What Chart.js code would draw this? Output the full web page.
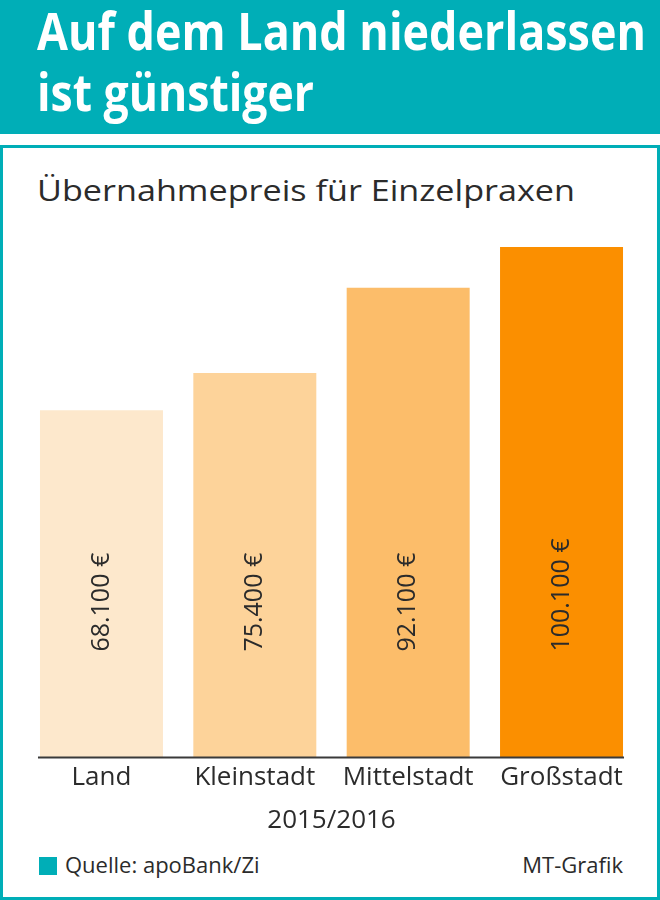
<!DOCTYPE html>
<html lang="de">
<head>
<meta charset="utf-8">
<script src="https://cdn.jsdelivr.net/npm/chart.js@4"></script>
<style>
  html, body { margin: 0; padding: 0; background: #fff; }
  body { position: relative; width: 660px; height: 900px; overflow: hidden; font-family: "Open Sans", sans-serif; color: #2b2b2b; }
  .header { position: absolute; left: 0; top: 0; width: 660px; height: 134px; background: #00aeb7; }
  .fit { position: absolute; left: 37px; white-space: nowrap; line-height: 1; transform-origin: 0 0; }
  .title { color: #fff; font-weight: 700; font-size: 52px; }
  .frame { position: absolute; left: 0; top: 145px; width: 660px; height: 755px; box-sizing: border-box; border: 3px solid #00aeb7; }
  .subtitle { font-size: 29px; top: 175px; }
  .foot { position: absolute; font-size: 22px; line-height: 1; top: 853px; white-space: nowrap; }
  .swatch { position: absolute; left: 39px; top: 857px; width: 18px; height: 18px; background: #00aeb7; }
  canvas { position: absolute; left: 0; top: 150px; }
</style>
</head>
<body>
<div class="header"></div>
<div class="fit title" id="t1" data-w="609" style="top:4px">Auf dem Land niederlassen</div>
<div class="fit title" id="t2" data-w="277" style="top:65px">ist günstiger</div>
<div class="frame"></div>
<div class="fit subtitle" id="sub" data-w="538">Übernahmepreis für Einzelpraxen</div>
<canvas id="chart" width="660" height="686"></canvas>
<div class="swatch"></div>
<div class="foot" style="left:65px">Quelle: apoBank/Zi</div>
<div class="foot" style="right:37px">MT-Grafik</div>

<script>
// Übernahmepreis für Einzelpraxen, 2015/2016
const categories = ['Land', 'Kleinstadt', 'Mittelstadt', 'Großstadt'];
const prices = [68100, 75400, 92100, 100100];
const barColors = ['#fde8cc', '#fdd39a', '#fcbd6a', '#fb8f00'];
const period = '2015/2016';

const TEXT = '#2b2b2b';
const FONT = '"Open Sans", sans-serif';

// squeeze the headline texts to the width they have in the print layout
function fitTexts() {
  document.querySelectorAll('.fit').forEach(el => {
    el.style.transform = 'none';
    const w = el.getBoundingClientRect().width;
    el.style.transform = 'scaleX(' + (parseFloat(el.dataset.w) / w) + ')';
  });
}

function euro(v) {
  return String(v).replace(/\B(?=(\d{3})+(?!\d))/g, '.') + ' €';
}

// rotated price inside each bar + the base line under the bars
const barDecor = {
  id: 'barDecor',
  afterDatasetsDraw(chart) {
    const ctx = chart.ctx;
    const bars = chart.getDatasetMeta(0).data;
    const bottom = chart.scales.y.getPixelForValue(0);

    ctx.save();
    ctx.font = '25px ' + FONT;
    ctx.fillStyle = TEXT;
    ctx.textAlign = 'left';
    ctx.textBaseline = 'middle';
    bars.forEach((bar, i) => {
      ctx.save();
      ctx.translate(bar.x, bottom - 106);
      ctx.rotate(-Math.PI / 2);
      ctx.fillText(euro(prices[i]), 0, 0);
      ctx.restore();
    });

    const first = bars[0], last = bars[bars.length - 1];
    ctx.strokeStyle = '#3a3a3a';
    ctx.lineWidth = 2;
    ctx.beginPath();
    ctx.moveTo(first.x - first.width / 2 - 2, bottom);
    ctx.lineTo(last.x + last.width / 2 + 1, bottom);
    ctx.stroke();
    ctx.restore();
  }
};

function draw() {
  fitTexts();
  new Chart(document.getElementById('chart'), {
    type: 'bar',
    data: {
      labels: categories,
      datasets: [{
        data: prices,
        backgroundColor: barColors,
        borderWidth: 0,
        barPercentage: 0.802,
        categoryPercentage: 1
      }]
    },
    options: {
      responsive: false,
      animation: false,
      layout: { padding: { top: 97, left: 24.8, right: 21.8, bottom: 0 } },
      plugins: { legend: { display: false }, tooltip: { enabled: false } },
      scales: {
        x: {
          grid: { display: false, drawTicks: false },
          border: { display: false },
          ticks: { color: TEXT, font: { family: FONT, size: 26 }, padding: 4 },
          title: {
            display: true,
            text: period,
            color: TEXT,
            font: { family: FONT, size: 26 },
            padding: { top: 8, bottom: 0 }
          }
        },
        y: { display: false, min: 0, max: 100100 }
      }
    },
    plugins: [barDecor]
  });
}

if (document.fonts && document.fonts.ready) {
  document.fonts.load('700 52px "Open Sans"').then(() => document.fonts.ready).then(draw, draw);
} else {
  draw();
}
</script>
</body>
</html>
